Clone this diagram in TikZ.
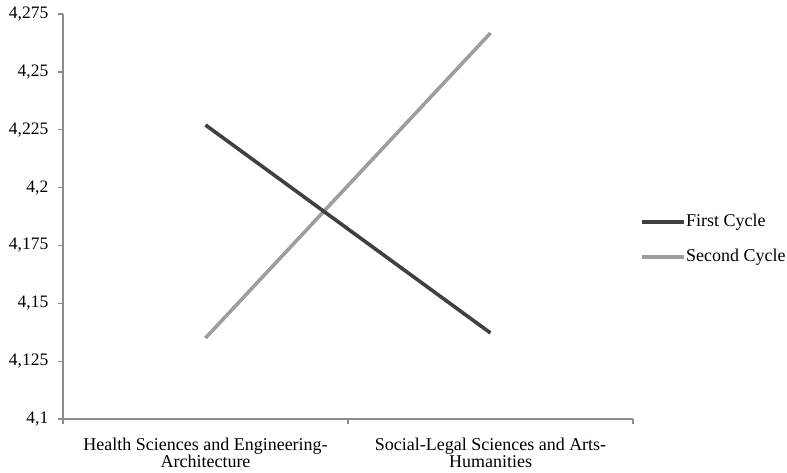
\documentclass[tikz,border=0pt]{standalone}
\usepackage{fontspec}
\setmainfont{Liberation Serif}
\begin{document}
\begin{tikzpicture}[x=1pt,y=-1pt,
  axis/.style={draw=black!45,line width=1.3pt},
  tickl/.style={anchor=east,font=\fontsize{17.5}{17.5}\selectfont,inner sep=0pt},
  catl/.style={anchor=north,align=center,font=\fontsize{18}{17}\selectfont,inner sep=0pt},
  first/.style={draw=black!75,line width=3.6pt},
  second/.style={draw=black!38,line width=3.6pt},
  legl/.style={anchor=west,font=\fontsize{18}{18}\selectfont,inner sep=0pt}]
\useasboundingbox (0,0) rectangle (787,472);
% axes
\coordinate (o) at (63,419);
\coordinate (yt) at (63,14);
\coordinate (xe) at (633,419);
\draw[axis] (yt) -- (o) -- (xe);
\foreach \i/\l in {0/4{,}1,1/4{,}125,2/4{,}15,3/4{,}175,4/4{,}2,5/4{,}225,6/4{,}25,7/4{,}275}{
  \draw[axis] (58,{419-57.857*\i}) -- (63,{419-57.857*\i});
  \node[tickl] (t\i) at (48.5,{419-57.857*\i}) {\l};
}
\foreach \x in {63,348,633}{\draw[axis] (\x,419) -- (\x,424);}
\node[catl] (c1) at (205.5,437.5) {Health Sciences and Engineering-\\Architecture};
\node[catl] (c2) at (490.5,437.5) {Social-Legal Sciences and Arts-\\Humanities};
% data
\coordinate (f1) at (205.5,125);
\coordinate (f2) at (490.5,333);
\coordinate (s1) at (205.5,338);
\coordinate (s2) at (490.5,33);
\draw[second] (s1) -- (s2);
\draw[first] (f1) -- (f2);
% legend
\coordinate (lf1) at (642,222); \coordinate (lf2) at (684,222);
\coordinate (ls1) at (642,257); \coordinate (ls2) at (684,257);
\draw[first] (lf1) -- (lf2);
\draw[second] (ls1) -- (ls2);
\node[legl] (lfirst) at (686,222) {First Cycle};
\node[legl] (lsecond) at (686,257) {Second Cycle};
\end{tikzpicture}
\end{document}
